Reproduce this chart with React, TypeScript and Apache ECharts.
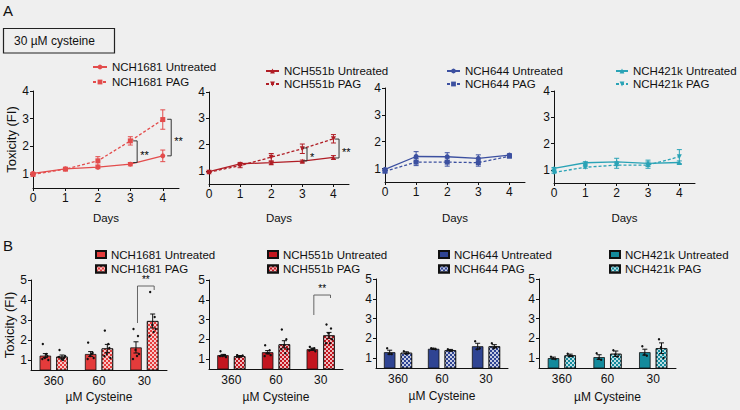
import React, { useEffect, useRef } from 'react';
import * as echarts from 'echarts';

// ---------------- Data ----------------
const days = [0, 1, 2, 3, 4];
const dayTicks = [0, 1, 2, 3, 4];
const lineYTicks = [1, 2, 3, 4];
const barYTicks = [1, 2, 3, 4, 5];
const cysteine = ['360', '60', '30'];

const nch1681Untreated = [1.03, 1.19, 1.25, 1.36, 1.66];
const nch1681UntreatedSem = [0.02, 0.03, 0.05, 0.06, 0.21];
const nch1681Pag = [0.99, 1.18, 1.48, 2.2, 2.97];
const nch1681PagSem = [0.02, 0.03, 0.15, 0.15, 0.35];

const nch551bUntreated = [0.97, 1.27, 1.31, 1.37, 1.51];
const nch551bUntreatedSem = [0.02, 0.05, 0.05, 0.04, 0.07];
const nch551bPag = [0.95, 1.2, 1.52, 1.84, 2.22];
const nch551bPagSem = [0.02, 0.08, 0.14, 0.18, 0.16];

const nch644Untreated = [0.97, 1.45, 1.44, 1.38, 1.5];
const nch644UntreatedSem = [0.03, 0.18, 0.15, 0.13, 0.05];
const nch644Pag = [0.9, 1.24, 1.24, 1.22, 1.46];
const nch644PagSem = [0.03, 0.13, 0.15, 0.13, 0.05];

const nch421kUntreated = [1.06, 1.27, 1.3, 1.25, 1.28];
const nch421kUntreatedSem = [0.03, 0.04, 0.14, 0.12, 0.06];
const nch421kPag = [0.9, 1.1, 1.18, 1.18, 1.5];
const nch421kPagSem = [0.03, 0.04, 0.12, 0.12, 0.27];

// significance brackets on the day plots: [day, upper value, lower value]
const sig1681Days = [[3.21, 2.2, 1.42], [4.26, 2.98, 1.66]];
const sig1681DayLabels = ['**', '**'];
const sig551bDays = [[3.15, 1.87, 1.38], [4.18, 2.21, 1.49]];
const sig551bDayLabels = ['*', '**'];

// bar plots (per cysteine concentration 360, 60, 30 µM)
const bar1681Untreated = [1.22, 1.3, 1.63];
const bar1681UntreatedSem = [0.1, 0.12, 0.28];
const bar1681UntreatedPts = [[1.8, 1.2, 1.1, 1.0, 1.3, 1.05], [1.87, 1.35, 1.2, 1.1, 1.3, 1.05], [2.55, 2.2, 1.5, 1.3, 1.2, 1.05]];
const bar1681Pag = [1.17, 1.58, 2.95];
const bar1681PagSem = [0.08, 0.2, 0.35];
const bar1681PagPts = [[1.5, 1.1, 1.05, 1.2, 1.0, 1.15], [2.47, 1.6, 1.3, 1.1, 1.8, 1.2], [4.4, 3.15, 2.75, 2.55, 2.4, 2.2]];

const bar551bUntreated = [1.2, 1.35, 1.5];
const bar551bUntreatedSem = [0.04, 0.08, 0.06];
const bar551bUntreatedPts = [[1.4, 1.2, 1.15, 1.1, 1.2, 1.15], [1.7, 1.45, 1.3, 1.2, 1.3, 1.15], [1.62, 1.55, 1.5, 1.4, 1.5, 1.43]];
const bar551bPag = [1.15, 1.75, 2.2];
const bar551bPagSem = [0.03, 0.18, 0.15];
const bar551bPagPts = [[1.2, 1.15, 1.1, 1.18, 1.15, 1.12], [2.5, 2.0, 1.7, 1.5, 1.3, 1.5], [2.75, 2.55, 2.3, 2.0, 1.8, 1.8]];

const bar644Untreated = [1.3, 1.47, 1.6];
const bar644UntreatedSem = [0.1, 0.03, 0.15];
const bar644UntreatedPts = [[1.5, 1.2, 1.2], [1.5, 1.45, 1.47], [1.85, 1.5, 1.45]];
const bar644Pag = [1.27, 1.4, 1.6];
const bar644PagSem = [0.05, 0.04, 0.08];
const bar644PagPts = [[1.35, 1.25, 1.22], [1.45, 1.38, 1.37], [1.75, 1.55, 1.5]];

const bar421kUntreated = [1.0, 1.05, 1.3];
const bar421kUntreatedSem = [0.05, 0.12, 0.15];
const bar421kUntreatedPts = [[1.07, 0.95, 0.98], [1.25, 0.92, 0.98], [1.6, 1.12, 1.18]];
const bar421kPag = [1.14, 1.22, 1.5];
const bar421kPagSem = [0.06, 0.14, 0.27];
const bar421kPagPts = [[1.22, 1.1, 1.1], [1.4, 1.08, 1.18], [1.95, 1.0, 1.55]];

// bracket on bar plots: [category index, top value, left leg end, right leg end]
const sig1681Bars = [[2, 4.7, 2.85, 4.5]];
const sig551bBars = [[2, 4.24, 3.23, 4.09]];

// ---------------- Styles / layout ----------------
const FONT = '"Liberation Sans", Arial, Helvetica, sans-serif';
const INK = '#111111';
const BAR_W = 11.5;
const BAR_GAP = 0.45;
const BAR_OFF = (BAR_W + BAR_W * BAR_GAP) / 2;
const JITTER = [-2.5, 2, -0.5, 3, 1, -3];
const DOWN_TRI = 'path://M0,0L10,0L5,9Z';

const linePanels = [
  { label: 'NCH1681', u: nch1681Untreated, us: nch1681UntreatedSem, p: nch1681Pag, ps: nch1681PagSem, color: '#e34c4c', symU: 'circle', symP: 'rect', grid: { left: 33, top: 91, width: 146, height: 97 }, leg: { left: 92, top: 61, gap: 3, w: 14 }, nameGap: 23, sig: sig1681Days, sigLabels: sig1681DayLabels, yName: true },
  { label: 'NCH551b', u: nch551bUntreated, us: nch551bUntreatedSem, p: nch551bPag, ps: nch551bPagSem, color: '#b01d25', symU: 'triangle', symP: DOWN_TRI, grid: { left: 209, top: 92, width: 140, height: 92 }, leg: { left: 265, top: 65, gap: 1, w: 13 }, nameGap: 27, sig: sig551bDays, sigLabels: sig551bDayLabels, yName: false },
  { label: 'NCH644', u: nch644Untreated, us: nch644UntreatedSem, p: nch644Pag, ps: nch644PagSem, color: '#3c50a0', symU: 'circle', symP: 'rect', grid: { left: 385, top: 88, width: 140, height: 94 }, leg: { left: 446, top: 65, gap: 1, w: 13 }, nameGap: 29, sig: [], sigLabels: [], yName: false },
  { label: 'NCH421k', u: nch421kUntreated, us: nch421kUntreatedSem, p: nch421kPag, ps: nch421kPagSem, color: '#2aa3b6', symU: 'triangle', symP: DOWN_TRI, grid: { left: 554, top: 91, width: 141, height: 92 }, leg: { left: 615, top: 65, gap: 1, w: 12 }, nameGap: 28, sig: [], sigLabels: [], yName: false },
];

const barPanels = [
  { label: 'NCH1681', u: bar1681Untreated, us: bar1681UntreatedSem, up: bar1681UntreatedPts, p: bar1681Pag, ps: bar1681PagSem, pp: bar1681PagPts, color: '#e43b3b', grid: { left: 31, top: 280, width: 136, height: 90 }, leg: { left: 95 }, nameGap: 21, sig: sig1681Bars, yName: true },
  { label: 'NCH551b', u: bar551bUntreated, us: bar551bUntreatedSem, up: bar551bUntreatedPts, p: bar551bPag, ps: bar551bPagSem, pp: bar551bPagPts, color: '#c3161f', grid: { left: 209, top: 280, width: 134, height: 89 }, leg: { left: 267 }, nameGap: 22, sig: sig551bBars, yName: false },
  { label: 'NCH644', u: bar644Untreated, us: bar644UntreatedSem, up: bar644UntreatedPts, p: bar644Pag, ps: bar644PagSem, pp: bar644PagPts, color: '#2f4493', grid: { left: 376, top: 279, width: 132, height: 89 }, leg: { left: 438 }, nameGap: 22, sig: [], yName: false },
  { label: 'NCH421k', u: bar421kUntreated, us: bar421kUntreatedSem, up: bar421kUntreatedPts, p: bar421kPag, ps: bar421kPagSem, pp: bar421kPagPts, color: '#148a9c', grid: { left: 539, top: 279, width: 137, height: 89 }, leg: { left: 609 }, nameGap: 23, sig: [], yName: false },
];

const axisLineStyle = { lineStyle: { color: INK, width: 1 } };
const labelStyle = { color: INK, fontSize: 12, fontFamily: FONT };

function errorBarRender(color: string, hw: number, offset: number) {
  return (params: any, api: any) => {
    const x = api.value(0);
    const y = api.value(1);
    const e = api.value(2);
    const side = offset ? api.value(3) : 0;
    const top = api.coord([x, y + e]);
    const bot = api.coord([x, y - e]);
    const dx = side * offset;
    const cx = top[0] + dx;
    const st = { stroke: color, lineWidth: 1, fill: null };
    return {
      type: 'group',
      children: [
        { type: 'line', shape: { x1: cx, y1: top[1], x2: cx, y2: bot[1] }, style: st },
        { type: 'line', shape: { x1: cx - hw, y1: top[1], x2: cx + hw, y2: top[1] }, style: st },
        { type: 'line', shape: { x1: cx - hw, y1: bot[1], x2: cx + hw, y2: bot[1] }, style: st },
      ],
    };
  };
}

function buildOption() {
  const grid: any[] = [];
  const xAxis: any[] = [];
  const yAxis: any[] = [];
  const series: any[] = [];
  const legend: any[] = [];

  linePanels.forEach((pn, i) => {
    grid.push({ ...pn.grid });
    xAxis.push({
      type: 'value', gridIndex: i, min: 0, max: 4.5,
      axisLine: axisLineStyle,
      axisTick: { length: 3, lineStyle: { color: INK }, customValues: dayTicks },
      axisLabel: { ...labelStyle, margin: 4, customValues: dayTicks },
      splitLine: { show: false },
      name: 'Days', nameLocation: 'middle', nameGap: pn.nameGap + 1,
      nameTextStyle: { color: INK, fontSize: 11.5, fontFamily: FONT },
    });
    yAxis.push({
      type: 'value', gridIndex: i, min: 0.5, max: 4,
      axisLine: { show: true, ...axisLineStyle },
      axisTick: { show: true, length: 3, lineStyle: { color: INK }, customValues: lineYTicks },
      axisLabel: { ...labelStyle, margin: 4, customValues: lineYTicks },
      splitLine: { show: false },
      name: pn.yName ? 'Toxicity (FI)' : '', nameLocation: 'middle', nameGap: 10, nameRotate: 90,
      nameTextStyle: { color: INK, fontSize: 13, fontFamily: FONT },
    });
    const base = { xAxisIndex: i, yAxisIndex: i };
    series.push({
      ...base, type: 'line', name: `${pn.label} Untreated`,
      data: days.map((d, j) => [d, pn.u[j]]),
      symbol: pn.symU, symbolSize: 5, color: pn.color,
      lineStyle: { width: 1.3, color: pn.color }, itemStyle: { color: pn.color }, z: 4,
    });
    series.push({
      ...base, type: 'line', name: `${pn.label} PAG`,
      data: days.map((d, j) => [d, pn.p[j]]),
      symbol: pn.symP, symbolSize: 5, color: pn.color,
      lineStyle: { width: 1.3, color: pn.color, type: [3, 2] }, itemStyle: { color: pn.color }, z: 4,
    });
    series.push({
      ...base, type: 'custom', name: `${pn.label} err`, color: pn.color, itemStyle: { color: pn.color },
      data: [...days.map((d, j) => [d, pn.u[j], pn.us[j]]), ...days.map((d, j) => [d, pn.p[j], pn.ps[j]])],
      renderItem: errorBarRender(pn.color, 2.5, 0), z: 3, silent: true,
    });
    if (pn.sig.length) {
      const labels = pn.sigLabels;
      series.push({
        ...base, type: 'custom', name: `${pn.label} sig`, data: pn.sig, z: 5, silent: true,
        color: '#333', itemStyle: { color: '#333' },
        renderItem: (params: any, api: any) => {
          const x = api.value(0);
          const p1 = api.coord([x, api.value(1)]);
          const p2 = api.coord([x, api.value(2)]);
          return {
            type: 'group',
            children: [
              { type: 'polyline', shape: { points: [[p1[0] - 4, p1[1]], [p1[0], p1[1]], [p2[0], p2[1]], [p2[0] - 4, p2[1]]] }, style: { stroke: '#333', lineWidth: 1, fill: null } },
              { type: 'text', x: p1[0] + 3, y: (p1[1] + p2[1]) / 2 + 3, style: { text: labels[params.dataIndex], fill: '#000', fontSize: 11, fontFamily: FONT, verticalAlign: 'middle', align: 'left' } },
            ],
          };
        },
      });
    }
    legend.push({
      left: pn.leg.left, top: pn.leg.top, orient: 'vertical', itemGap: pn.leg.gap,
      itemWidth: pn.leg.w, itemHeight: 6, padding: 0, selectedMode: false,
      textStyle: { color: INK, fontSize: 11.5, fontFamily: FONT, lineHeight: 12 },
      data: [`${pn.label} Untreated`, `${pn.label} PAG`],
    });
  });

  barPanels.forEach((pn, k) => {
    const i = k + 4;
    grid.push({ ...pn.grid });
    xAxis.push({
      type: 'category', gridIndex: i, data: cysteine,
      axisLine: axisLineStyle, axisTick: { show: false },
      axisLabel: { ...labelStyle, margin: 5 },
      name: 'µM Cysteine', nameLocation: 'middle', nameGap: pn.nameGap,
      nameTextStyle: { color: INK, fontSize: 12, fontFamily: FONT },
    });
    yAxis.push({
      type: 'value', gridIndex: i, min: 0.5, max: 5,
      axisLine: { show: true, ...axisLineStyle },
      axisTick: { show: true, length: 3, lineStyle: { color: INK }, customValues: barYTicks },
      axisLabel: { ...labelStyle, margin: 4, customValues: barYTicks },
      splitLine: { show: false },
      name: pn.yName ? 'Toxicity (FI)' : '', nameLocation: 'middle', nameGap: 15, nameRotate: 90,
      nameTextStyle: { color: INK, fontSize: 13, fontFamily: FONT },
    });
    const base = { xAxisIndex: i, yAxisIndex: i };
    const border = { borderColor: '#111', borderWidth: 0.8 };
    series.push({
      ...base, type: 'bar', name: `${pn.label} Untreated (bars)`, data: pn.u,
      barWidth: BAR_W, barGap: `${BAR_GAP * 100}%`, color: pn.color,
      itemStyle: { color: pn.color, ...border }, z: 2,
    });
    series.push({
      ...base, type: 'bar', name: `${pn.label} PAG (bars)`, data: pn.p,
      barWidth: BAR_W, barGap: `${BAR_GAP * 100}%`, color: pn.color,
      itemStyle: {
        color: pn.color, ...border,
        decal: { symbol: 'rect', symbolSize: 1, color: 'rgba(255,255,255,0.72)', dashArrayX: [[2, 2], [0, 2, 2, 0]], dashArrayY: [2, 0], rotation: 0 },
      }, z: 2,
    });
    const errData: number[][] = [];
    pn.u.forEach((v, c) => errData.push([c, v, pn.us[c], -1]));
    pn.p.forEach((v, c) => errData.push([c, v, pn.ps[c], 1]));
    series.push({ ...base, type: 'custom', name: `${pn.label} bar err`, data: errData, color: '#111', itemStyle: { color: '#111' }, renderItem: errorBarRender('#111', 2.5, BAR_OFF), z: 3, silent: true });
    const dots: number[][] = [];
    pn.up.forEach((arr, c) => arr.forEach((v, j) => dots.push([c, v, -1, j])));
    pn.pp.forEach((arr, c) => arr.forEach((v, j) => dots.push([c, v, 1, j])));
    series.push({
      ...base, type: 'custom', name: `${pn.label} pts`, data: dots, z: 4, silent: true,
      color: '#111', itemStyle: { color: '#111' },
      renderItem: (params: any, api: any) => {
        const pt = api.coord([api.value(0), api.value(1)]);
        const side = api.value(2);
        const j = api.value(3);
        return { type: 'circle', shape: { cx: pt[0] + side * BAR_OFF + JITTER[j % JITTER.length], cy: pt[1], r: 1.2 }, style: { fill: '#111' } };
      },
    });
    if (pn.sig.length) {
      series.push({
        ...base, type: 'custom', name: `${pn.label} bar sig`, data: pn.sig, z: 5, silent: true,
        color: '#555', itemStyle: { color: '#555' },
        renderItem: (params: any, api: any) => {
          const c = api.value(0);
          const top = api.coord([c, api.value(1)]);
          const l = api.coord([c, api.value(2)]);
          const r = api.coord([c, api.value(3)]);
          const xl = top[0] - BAR_OFF + 1.5;
          const xr = top[0] + BAR_OFF + 1.5;
          return {
            type: 'group',
            children: [
              { type: 'polyline', shape: { points: [[xl, l[1]], [xl, top[1]], [xr, top[1]], [xr, r[1]]] }, style: { stroke: '#555', lineWidth: 0.9, fill: null } },
              { type: 'text', x: (xl + xr) / 2, y: top[1] - 2, style: { text: '**', fill: '#000', fontSize: 10, fontFamily: FONT, align: 'center', verticalAlign: 'bottom' } },
            ],
          };
        },
      });
    }
    legend.push({
      left: pn.leg.left, top: 248.5, orient: 'vertical', itemGap: 2.5,
      itemWidth: 10, itemHeight: 7, padding: 0, selectedMode: false, icon: 'rect',
      textStyle: { color: INK, fontSize: 11.5, fontFamily: FONT, lineHeight: 12 },
      formatter: (n: string) => n.replace(' (bars)', ''),
      data: [`${pn.label} Untreated (bars)`, `${pn.label} PAG (bars)`],
    });
  });

  return {
    animation: false,
    backgroundColor: '#efefef',
    textStyle: { fontFamily: FONT },
    grid, xAxis, yAxis, series, legend,
    graphic: [
      { type: 'text', left: 3, top: 3, style: { text: 'A', fontSize: 15, fontFamily: FONT, fill: INK } },
      { type: 'rect', shape: { x: 3.5, y: 28.5, width: 111, height: 24.5 }, style: { fill: 'none', stroke: '#222', lineWidth: 1.2 } },
      { type: 'text', left: 14, top: 35, style: { text: '30 µM cysteine', fontSize: 12, fontFamily: FONT, fill: INK } },
      { type: 'text', left: 3, top: 238, style: { text: 'B', fontSize: 15, fontFamily: FONT, fill: INK } },
    ],
  };
}

export default function App() {
  const ref = useRef<HTMLDivElement>(null);
  useEffect(() => {
    if (!ref.current) return;
    const chart = echarts.init(ref.current, null, { renderer: 'svg' });
    chart.setOption(buildOption() as any);
    return () => chart.dispose();
  }, []);
  return <div ref={ref} style={{ position: 'fixed', left: 0, top: 0, width: 740, height: 410 }} />;
}
